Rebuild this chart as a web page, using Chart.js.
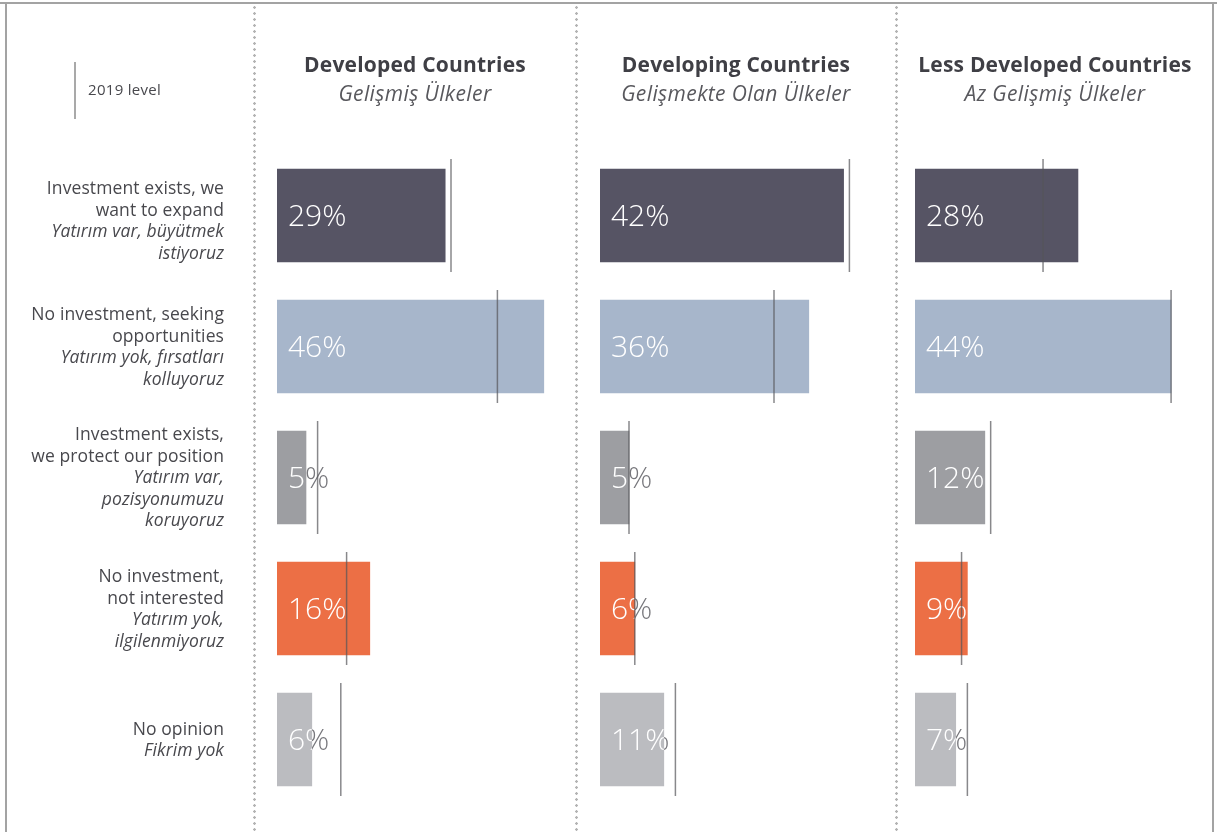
<!DOCTYPE html>
<html>
<head>
<meta charset="utf-8">
<title>Investment by country group</title>
<script src="https://cdn.jsdelivr.net/npm/chart.js@4"></script>
<style>
  html, body { margin: 0; padding: 0; background: #fff; }
  #page { position: relative; width: 1217px; height: 832px; overflow: hidden; }
  .line { position: absolute; background: #a3a3a3; }
  .sep {
    position: absolute; top: 6px; width: 3px; height: 826px;
    background: radial-gradient(circle at 1.5px 1.5px, #b3b3b3 1.1px, transparent 1.5px) 0 0 / 3px 6px repeat-y;
  }
  .panel { position: absolute; top: 0; }
</style>
</head>
<body>
<div id="page">
  <div class="line" style="left:0;top:2px;width:1217px;height:2px"></div>
  <div class="line" style="left:5px;top:3px;width:2px;height:829px"></div>
  <div class="line" style="left:1212px;top:3px;width:2px;height:829px"></div>
  <div class="sep" style="left:253px"></div>
  <div class="sep" style="left:575px"></div>
  <div class="sep" style="left:895px"></div>
  <div class="panel" style="left:0"><canvas id="developedChart" width="576" height="832"></canvas></div>
  <div class="panel" style="left:576px"><canvas id="developingChart" width="320" height="832"></canvas></div>
  <div class="panel" style="left:896px"><canvas id="lessChart" width="321" height="832"></canvas></div>
</div>
<script>
// categories, English lines then Turkish (italic) lines
const categoriesEn = [
  ['Investment exists, we', 'want to expand'],
  ['No investment, seeking', 'opportunities'],
  ['Investment exists,', 'we protect our position'],
  ['No investment,', 'not interested'],
  ['No opinion']
];
const categoriesTr = [
  ['Yatırım var, büyütmek', 'istiyoruz'],
  ['Yatırım yok, fırsatları', 'kolluyoruz'],
  ['Yatırım var,', 'pozisyonumuzu', 'koruyoruz'],
  ['Yatırım yok,', 'ilgilenmiyoruz'],
  ['Fikrim yok']
];
const panelTitles = ['Developed Countries', 'Developing Countries', 'Less Developed Countries'];
const panelSubtitles = ['Gelişmiş Ülkeler', 'Gelişmekte Olan Ülkeler', 'Az Gelişmiş Ülkeler'];
const legendLabel = '2019 level';

// current shares (%)
const developed = [29, 46, 5, 16, 6];
const developing = [42, 36, 5, 6, 11];
const lessDeveloped = [28, 44, 12, 9, 7];
// 2019 level markers (%), estimated from the lines
const developed2019 = [30, 38, 7, 12, 11];
const developing2019 = [43, 30, 5, 6, 13];
const lessDeveloped2019 = [22, 44, 13, 8, 9];

const barColors = ['#565464', '#a7b6cb', '#9d9ea2', '#ec6f45', '#bbbcc0'];
const FONT = '"Open Sans", "Noto Sans", sans-serif';

function headerPlugin(title, subtitle, cx) {
  return {
    id: 'header',
    afterDraw(chart) {
      const ctx = chart.ctx;
      ctx.save();
      ctx.textAlign = 'center';
      ctx.textBaseline = 'middle';
      ctx.fillStyle = '#3f3f45';
      ctx.font = '700 21px ' + FONT;
      ctx.letterSpacing = '0.2px';
      ctx.fillText(title, cx, 66);
      ctx.fillStyle = '#58585d';
      ctx.font = 'italic 400 21px ' + FONT;
      ctx.letterSpacing = '0.4px';
      ctx.fillText(subtitle, cx, 95);
      ctx.restore();
    }
  };
}

// value labels: white inside the bar, grey where the text runs past it
const barLabels = {
  id: 'barLabels',
  afterDatasetDraw(chart, args) {
    if (args.meta.type !== 'bar') return;
    const ctx = chart.ctx;
    const vals = chart.data.datasets[args.index].data;
    ctx.save();
    ctx.font = '300 30px ' + FONT;
    ctx.textBaseline = 'middle';
    ctx.textAlign = 'left';
    args.meta.data.forEach((bar, i) => {
      const p = bar.getProps(['x', 'y', 'base', 'height'], true);
      const text = vals[i] + '%';
      const tx = p.base + 11, ty = p.y + 2;
      const top = p.y - p.height / 2;
      ctx.save();
      ctx.beginPath();
      ctx.rect(p.x, top - 20, 400, p.height + 40);
      ctx.clip();
      ctx.fillStyle = '#77777c';
      ctx.fillText(text, tx, ty);
      ctx.restore();
      ctx.save();
      ctx.beginPath();
      ctx.rect(p.base, top, p.x - p.base, p.height);
      ctx.clip();
      ctx.fillStyle = '#ffffff';
      ctx.fillText(text, tx, ty);
      ctx.restore();
    });
    ctx.restore();
  }
};

// left column: category labels + legend
const sideLabels = {
  id: 'sideLabels',
  afterDraw(chart) {
    const ctx = chart.ctx;
    const yScale = chart.scales.y;
    const lh = 21.5;
    ctx.save();
    ctx.textAlign = 'right';
    ctx.textBaseline = 'middle';
    ctx.fillStyle = '#48484d';
    categoriesEn.forEach((en, i) => {
      const lines = en.map(t => [t, false]).concat(categoriesTr[i].map(t => [t, true]));
      let y = yScale.getPixelForValue(i) - (lines.length - 1) * lh / 2 + (i === 0 ? 6 : 1);
      lines.forEach(([t, italic]) => {
        ctx.font = (italic ? 'italic ' : '') + '400 17.5px ' + FONT;
        ctx.letterSpacing = '0.1px';
        ctx.fillText(t, 224, y);
        y += lh;
      });
    });
    ctx.strokeStyle = '#8c8c8c';
    ctx.lineWidth = 1.5;
    ctx.beginPath();
    ctx.moveTo(75, 62);
    ctx.lineTo(75, 119);
    ctx.stroke();
    ctx.textAlign = 'left';
    ctx.font = '400 15px ' + FONT;
    ctx.letterSpacing = '0.3px';
    ctx.fillText(legendLabel, 88, 91);
    ctx.restore();
  }
};

function makePanel(id, values, values2019, pad, extra) {
  return new Chart(document.getElementById(id), {
    type: 'bar',
    data: {
      labels: categoriesEn.map(l => l.join(' ')),
      datasets: [{
        type: 'bar',
        label: 'Current',
        indexAxis: 'y',
        data: values,
        backgroundColor: barColors,
        borderWidth: 0,
        barThickness: 93,
        order: 1
      }, {
        type: 'line',
        label: legendLabel,
        indexAxis: 'y',
        data: values2019,
        showLine: false,
        pointStyle: 'line',
        pointRotation: 90,
        pointRadius: 56.5,
        pointHoverRadius: 56.5,
        pointBorderWidth: 1.5,
        pointHoverBorderWidth: 1.5,
        pointBorderColor: 'rgba(85, 85, 90, 0.7)',
        clip: false,
        order: 0
      }]
    },
    options: {
      indexAxis: 'y',
      responsive: false,
      animation: false,
      events: [],
      layout: { padding: pad, autoPadding: false },
      scales: {
        x: { display: false, min: 0, max: 50 },
        y: { display: false }
      },
      plugins: {
        legend: { display: false },
        tooltip: { enabled: false }
      }
    },
    plugins: [barLabels].concat(extra)
  });
}

makePanel('developedChart', developed, developed2019,
  { left: 277, right: 9, top: 150, bottom: 27 },
  [sideLabels, headerPlugin(panelTitles[0], panelSubtitles[0], 415)]);
makePanel('developingChart', developing, developing2019,
  { left: 24, right: 6, top: 150, bottom: 27 },
  [headerPlugin(panelTitles[1], panelSubtitles[1], 160)]);
makePanel('lessChart', lessDeveloped, lessDeveloped2019,
  { left: 19, right: 11, top: 150, bottom: 27 },
  [headerPlugin(panelTitles[2], panelSubtitles[2], 159)]);
</script>
</body>
</html>
